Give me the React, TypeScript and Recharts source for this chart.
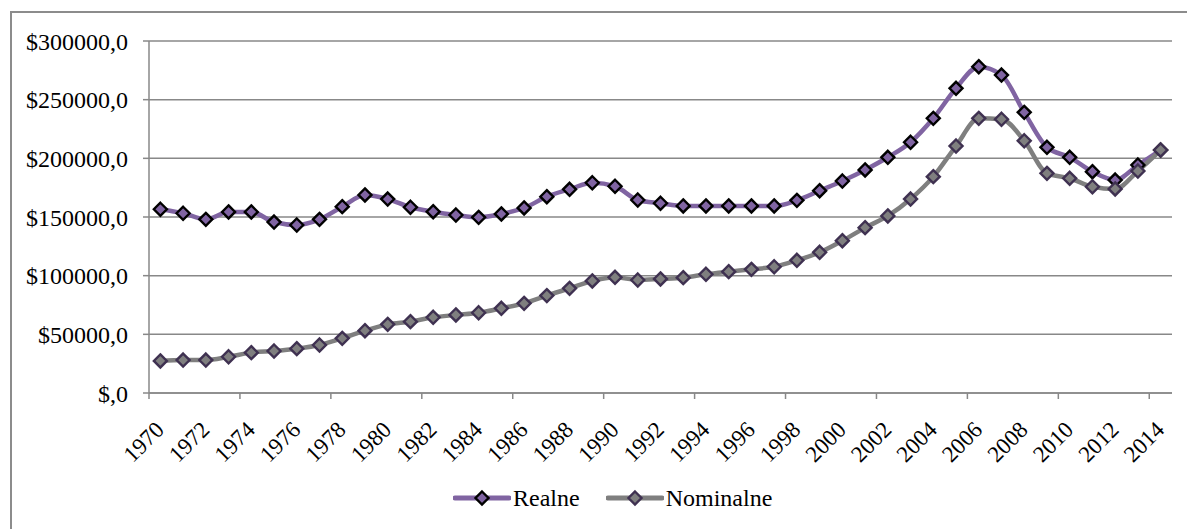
import { LineChart, Line, XAxis, YAxis, CartesianGrid, Legend } from 'recharts';

const years = [
  1970, 1971, 1972, 1973, 1974, 1975, 1976, 1977, 1978, 1979,
  1980, 1981, 1982, 1983, 1984, 1985, 1986, 1987, 1988, 1989,
  1990, 1991, 1992, 1993, 1994, 1995, 1996, 1997, 1998, 1999,
  2000, 2001, 2002, 2003, 2004, 2005, 2006, 2007, 2008, 2009,
  2010, 2011, 2012, 2013, 2014,
];

const realne = [
  156600, 153200, 148000, 154300, 154300, 145700, 143200, 148000, 158800, 168800,
  165300, 158300, 154500, 151700, 149700, 152600, 157700, 167300, 173600, 179200,
  176200, 164500, 161700, 159400, 159400, 159400, 159400, 159400, 164200, 172400,
  180700, 190100, 200900, 213700, 234100, 259700, 278100, 271000, 239200, 209400,
  200900, 188600, 181500, 194300, 207100,
];

const nominalne = [
  27300, 28100, 28100, 30900, 34400, 35800, 37800, 40900, 46600, 53100,
  58500, 60800, 64500, 66500, 68400, 72200, 76400, 83000, 89200, 95500,
  98600, 96300, 97200, 98300, 101200, 103400, 105400, 107600, 113100, 119900,
  129800, 140900, 150900, 165300, 184400, 210500, 234100, 233300, 215000, 187200,
  183000, 175800, 173900, 189200, 207100,
];

const yTicks = [0, 50000, 100000, 150000, 200000, 250000, 300000];

const data = years.map((y, i) => ({ year: y, Realne: realne[i], Nominalne: nominalne[i] }));

const FONT = 'Liberation Serif, Tinos, DejaVu Serif, serif';
const PURPLE = '#8064A2';
const GRAY = '#7F7F7F';
const AXIS = '#888888';
const HALF_BAND = 11.37;

const diamond = (fill: string, stroke: string) => (props: any) => {
  const { cx, cy, index } = props;
  if (cx == null || cy == null) return null;
  const r = 6.5;
  return (
    <path
      key={index}
      d={`M${cx},${cy - r}L${cx + r},${cy}L${cx},${cy + r}L${cx - r},${cy}Z`}
      fill={fill}
      stroke={stroke}
      strokeWidth={2.4}
    />
  );
};

const YearTick = (props: any) => {
  const { x, y, payload } = props;
  const year = payload.value as number;
  const showMark = (year - 1970) % 4 === 0;
  const ax = x + 5;
  const ay = y + 30;
  return (
    <g>
      {showMark && (
        <line x1={x - HALF_BAND} y1={385} x2={x - HALF_BAND} y2={391} stroke={AXIS} strokeWidth={1.5} />
      )}
      <text
        x={ax}
        y={ay}
        textAnchor="end"
        transform={`rotate(-45, ${ax}, ${ay})`}
        fontSize={23}
        fontFamily={FONT}
        fill="#000"
      >
        {year}
      </text>
    </g>
  );
};

const legendItems = [
  { name: 'Realne', line: PURPLE, fill: PURPLE, stroke: '#000' },
  { name: 'Nominalne', line: GRAY, fill: GRAY, stroke: '#3F3151' },
];

const LegendContent = () => (
  <div
    style={{
      display: 'flex',
      justifyContent: 'flex-start',
      alignItems: 'center',
      height: 38,
      fontFamily: FONT,
      fontSize: 24,
      color: '#000',
      paddingLeft: 445,
    }}
  >
    {legendItems.map((it) => (
      <div key={it.name} style={{ display: 'flex', alignItems: 'center', marginRight: 26 }}>
        <svg width={58} height={18}>
          <line x1={2} y1={9} x2={56} y2={9} stroke={it.line} strokeWidth={5} strokeLinecap="round" />
          <path d="M29,2.5L35.5,9L29,15.5L22.5,9Z" fill={it.fill} stroke={it.stroke} strokeWidth={2.4} />
        </svg>
        <span style={{ marginLeft: 2 }}>{it.name}</span>
      </div>
    ))}
  </div>
);

export default function App() {
  return (
    <div style={{ position: 'relative', width: 1187, height: 521, overflow: 'hidden', background: '#fff' }}>
      <div
        style={{
          position: 'absolute',
          left: 2,
          top: 3,
          width: 1220,
          height: 600,
          border: '2px solid #8c8c8c',
          boxSizing: 'border-box',
        }}
      />
      <LineChart
        width={1187}
        height={521}
        data={data}
        margin={{ top: 33, right: 23, left: 0, bottom: 0 }}
        style={{ position: 'absolute', left: 0, top: 0 }}
      >
        <CartesianGrid vertical={false} stroke={AXIS} strokeWidth={1.5} />
        <XAxis
          dataKey="year"
          interval={1}
          tick={<YearTick />}
          tickLine={false}
          axisLine={{ stroke: AXIS, strokeWidth: 1.5 }}
          padding={{ left: HALF_BAND, right: HALF_BAND }}
          height={86}
        />
        <YAxis
          width={141}
          domain={[0, 300000]}
          ticks={yTicks}
          interval={0}
          tickFormatter={(v: number) => `$${v === 0 ? '' : v},0`}
          tick={{ fill: '#000', fontSize: 24, fontFamily: FONT }}
          tickSize={6}
          tickMargin={15}
          tickLine={{ stroke: AXIS, strokeWidth: 1.5 }}
          axisLine={{ stroke: AXIS, strokeWidth: 1.5 }}
        />
        <Legend
          verticalAlign="bottom"
          content={<LegendContent />}
          wrapperStyle={{ height: 50 }}
        />
        <Line
          type="monotone"
          dataKey="Realne"
          stroke={PURPLE}
          strokeWidth={4.5}
          dot={diamond(PURPLE, '#000')}
          activeDot={false}
          isAnimationActive={false}
        />
        <Line
          type="monotone"
          dataKey="Nominalne"
          stroke={GRAY}
          strokeWidth={4.5}
          dot={diamond(GRAY, '#3F3151')}
          activeDot={false}
          isAnimationActive={false}
        />
      </LineChart>
    </div>
  );
}
